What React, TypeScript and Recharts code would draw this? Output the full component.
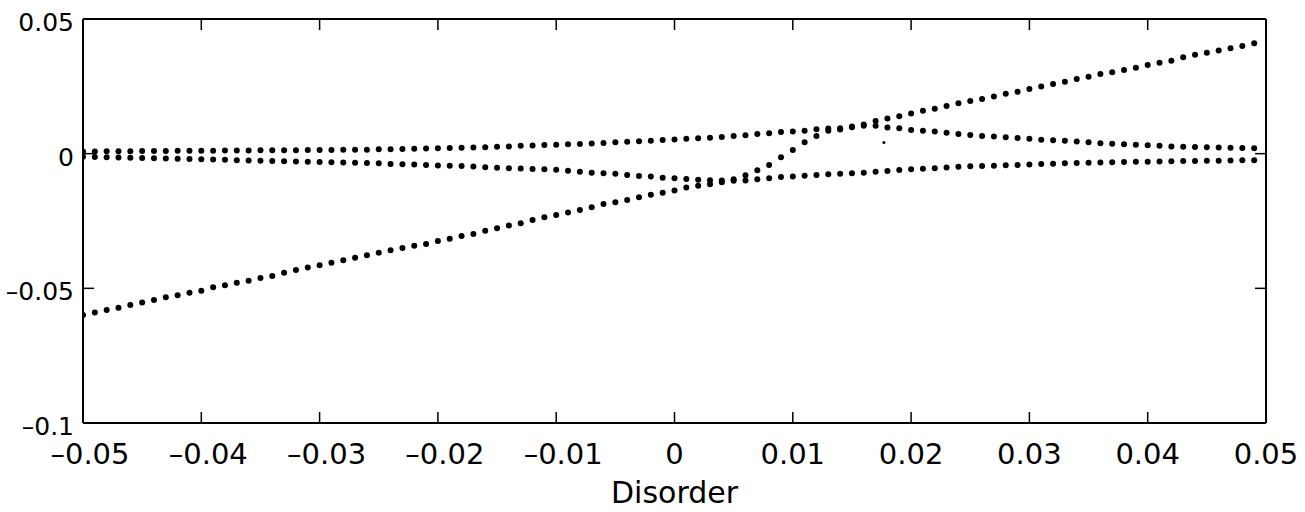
import React from "react";
import { ScatterChart, Scatter, XAxis, YAxis } from "recharts";

// disorder values (x), one per dot
const disorder = [
  -0.05, -0.049, -0.048, -0.047, -0.046, -0.045, -0.044, -0.043, -0.042, -0.041,
  -0.04, -0.039, -0.038, -0.037, -0.036, -0.035, -0.034, -0.033, -0.032, -0.031,
  -0.03, -0.029, -0.028, -0.027, -0.026, -0.025, -0.024, -0.023, -0.022, -0.021,
  -0.02, -0.019, -0.018, -0.017, -0.016, -0.015, -0.014, -0.013, -0.012, -0.011,
  -0.01, -0.009, -0.008, -0.007, -0.006, -0.005, -0.004, -0.003, -0.002, -0.001,
  0, 0.001, 0.002, 0.003, 0.004, 0.005, 0.006, 0.007, 0.008, 0.009,
  0.01, 0.011, 0.012, 0.013, 0.014, 0.015, 0.016, 0.017, 0.018, 0.019,
  0.02, 0.021, 0.022, 0.023, 0.024, 0.025, 0.026, 0.027, 0.028, 0.029,
  0.03, 0.031, 0.032, 0.033, 0.034, 0.035, 0.036, 0.037, 0.038, 0.039,
  0.04, 0.041, 0.042, 0.043, 0.044, 0.045, 0.046, 0.047, 0.048, 0.049,
];

// highest level
const upperLevel = [
  0.0008, 0.0008, 0.0009, 0.0009, 0.0009, 0.001, 0.001, 0.001, 0.0011, 0.0011,
  0.0011, 0.0011, 0.0012, 0.0012, 0.0012, 0.0013, 0.0013, 0.0013, 0.0013, 0.0014,
  0.0014, 0.0014, 0.0015, 0.0015, 0.0015, 0.0016, 0.0016, 0.0017, 0.0018, 0.0019,
  0.002, 0.0021, 0.0022, 0.0023, 0.0024, 0.0026, 0.0027, 0.0029, 0.003, 0.0032,
  0.0033, 0.0035, 0.0036, 0.0038, 0.004, 0.0042, 0.0044, 0.0046, 0.0048, 0.0051,
  0.0053, 0.0055, 0.0057, 0.0059, 0.0062, 0.0066, 0.0068, 0.0073, 0.0076, 0.008,
  0.0082, 0.0085, 0.0091, 0.0093, 0.0094, 0.0101, 0.0108, 0.0121, 0.0131, 0.0139,
  0.0149, 0.0159, 0.0167, 0.0177, 0.0187, 0.0196, 0.0203, 0.0212, 0.0222, 0.023,
  0.024, 0.0249, 0.0259, 0.0267, 0.0277, 0.0286, 0.0296, 0.0302, 0.0311, 0.0319,
  0.0329, 0.0338, 0.0345, 0.0358, 0.0367, 0.0375, 0.0383, 0.0391, 0.04, 0.041,
];

// middle level
const middleLevel = [
  -0.0011, -0.0012, -0.0013, -0.0014, -0.0015, -0.0016, -0.0017, -0.0018, -0.0019, -0.002,
  -0.0021, -0.0022, -0.0023, -0.0024, -0.0025, -0.0026, -0.0027, -0.0028, -0.0029, -0.003,
  -0.0031, -0.0032, -0.0033, -0.0034, -0.0035, -0.0036, -0.0038, -0.0039, -0.004, -0.0042,
  -0.0044, -0.0045, -0.0046, -0.0048, -0.005, -0.0052, -0.0054, -0.0055, -0.0057, -0.0058,
  -0.006, -0.0063, -0.0067, -0.0071, -0.0073, -0.0075, -0.0079, -0.0083, -0.0085, -0.0089,
  -0.0091, -0.0094, -0.0097, -0.0099, -0.01, -0.0095, -0.008, -0.0062, -0.0042, -0.0013,
  0.0014, 0.0042, 0.0066, 0.0085, 0.009, 0.0098, 0.0104, 0.0104, 0.0097, 0.0094,
  0.0088, 0.0085, 0.0082, 0.0078, 0.0073, 0.0069, 0.0066, 0.0064, 0.0061, 0.0058,
  0.0055, 0.0052, 0.005, 0.0048, 0.0045, 0.0042, 0.0039, 0.0037, 0.0035, 0.0033,
  0.0031, 0.0029, 0.0027, 0.0026, 0.0025, 0.0024, 0.0023, 0.0022, 0.0021, 0.002,
];

// lowest level
const lowerLevel = [
  -0.0599, -0.059, -0.058, -0.0572, -0.0562, -0.0553, -0.0543, -0.0533, -0.0526, -0.0516,
  -0.0509, -0.0496, -0.0489, -0.0479, -0.0472, -0.0462, -0.0454, -0.0442, -0.0432, -0.0423,
  -0.0414, -0.0405, -0.0396, -0.0386, -0.0377, -0.0368, -0.0359, -0.035, -0.0342, -0.0335,
  -0.0324, -0.0316, -0.0306, -0.0298, -0.0286, -0.0277, -0.0267, -0.0258, -0.0246, -0.0236,
  -0.0228, -0.0218, -0.0209, -0.0199, -0.0187, -0.018, -0.0172, -0.0162, -0.0153, -0.0145,
  -0.0137, -0.0126, -0.0119, -0.0114, -0.0106, -0.0101, -0.01, -0.0095, -0.0091, -0.0087,
  -0.0085, -0.0082, -0.0079, -0.0076, -0.0075, -0.0073, -0.0071, -0.0067, -0.0064, -0.0061,
  -0.0058, -0.0056, -0.0054, -0.0051, -0.0049, -0.0047, -0.0046, -0.0045, -0.0043, -0.0042,
  -0.004, -0.0038, -0.0037, -0.0036, -0.0035, -0.0034, -0.0033, -0.0032, -0.0031, -0.003,
  -0.003, -0.0029, -0.0028, -0.0027, -0.0027, -0.0026, -0.0026, -0.0025, -0.0024, -0.0024,
];

// a lone speck of ink in the scan
const speckX = [0.0177];
const speckY = [0.0041];

const xTicks = [-0.05, -0.04, -0.03, -0.02, -0.01, 0, 0.01, 0.02, 0.03, 0.04, 0.05];
const yTicks = [-0.1, -0.05, 0, 0.05];

const FONT = "'DejaVu Sans', sans-serif";
const TICK_LEN = 11;

const toPoints = (xs: number[], ys: number[]) => xs.map((x, i) => ({ x, y: ys[i] }));

const fmt = (v: number) => {
  if (v === 0) return "0";
  const s = Math.abs(v).toString();
  return v < 0 ? "\u2013" + s : s;
};

const Dot = (props: any) => {
  const { cx, cy } = props;
  return <circle cx={cx} cy={cy} r={3} fill="#000" />;
};

const Speck = (props: any) => {
  const { cx, cy } = props;
  return <circle cx={cx} cy={cy} r={1.5} fill="#000" />;
};

const BottomTick = (props: any) => {
  const { x, y, payload } = props;
  const v = payload.value;
  return (
    <g>
      <line x1={x} y1={y} x2={x} y2={y - TICK_LEN} stroke="#000" strokeWidth={1.5} />
      <text
        x={v < 0 ? x + 7 : x}
        y={y + 41}
        textAnchor="middle"
        fontSize={29}
        fontFamily={FONT}
        fill="#000"
      >
        {fmt(v)}
      </text>
    </g>
  );
};

const TopTick = (props: any) => {
  const { x, y } = props;
  return <line x1={x} y1={y} x2={x} y2={y + TICK_LEN} stroke="#000" strokeWidth={1.5} />;
};

const LeftTick = (props: any) => {
  const { x, y, payload } = props;
  return (
    <g>
      <line x1={x} y1={y} x2={x + TICK_LEN} y2={y} stroke="#000" strokeWidth={1.5} />
      <text
        x={x - 9}
        y={y + 12}
        textAnchor="end"
        fontSize={25}
        fontFamily={FONT}
        fill="#000"
      >
        {fmt(payload.value)}
      </text>
    </g>
  );
};

const RightTick = (props: any) => {
  const { x, y } = props;
  return <line x1={x} y1={y} x2={x - TICK_LEN} y2={y} stroke="#000" strokeWidth={1.5} />;
};

const axisLine = { stroke: "#000", strokeWidth: 2 };

const App = () => {
  return (
    <div style={{ position: "absolute", left: 0, top: 0, background: "#fff" }}>
      <ScatterChart
        width={1305}
        height={512}
        margin={{ top: 18, right: 38, bottom: 0, left: 0 }}
      >
        <XAxis
          xAxisId={0}
          type="number"
          dataKey="x"
          domain={[-0.05, 0.05]}
          ticks={xTicks}
          interval={0}
          height={89}
          tickSize={0}
          tickMargin={0}
          tickLine={false}
          axisLine={axisLine}
          tick={<BottomTick />}
          allowDataOverflow
          label={{
            value: "Disorder",
            position: "insideBottom",
            offset: 9,
            fontSize: 30,
            fontFamily: FONT,
            fill: "#000",
          }}
        />
        <XAxis
          xAxisId="top"
          orientation="top"
          type="number"
          dataKey="x"
          domain={[-0.05, 0.05]}
          ticks={xTicks}
          interval={0}
          height={1}
          tickSize={0}
          tickMargin={0}
          tickLine={false}
          axisLine={axisLine}
          tick={<TopTick />}
          allowDataOverflow
        />
        <YAxis
          yAxisId={0}
          type="number"
          dataKey="y"
          domain={[-0.1, 0.05]}
          ticks={yTicks}
          interval={0}
          width={83}
          tickSize={0}
          tickMargin={0}
          tickLine={false}
          axisLine={axisLine}
          tick={<LeftTick />}
          allowDataOverflow
        />
        <YAxis
          yAxisId="right"
          orientation="right"
          type="number"
          dataKey="y"
          domain={[-0.1, 0.05]}
          ticks={yTicks}
          interval={0}
          width={1}
          tickSize={0}
          tickMargin={0}
          tickLine={false}
          axisLine={axisLine}
          tick={<RightTick />}
          allowDataOverflow
        />
        <Scatter data={toPoints(disorder, lowerLevel)} shape={<Dot />} isAnimationActive={false} />
        <Scatter data={toPoints(disorder, middleLevel)} shape={<Dot />} isAnimationActive={false} />
        <Scatter data={toPoints(disorder, upperLevel)} shape={<Dot />} isAnimationActive={false} />
        <Scatter
          xAxisId="top"
          yAxisId="right"
          data={toPoints(speckX, speckY)}
          shape={<Speck />}
          isAnimationActive={false}
        />
      </ScatterChart>
    </div>
  );
};

export default App;
